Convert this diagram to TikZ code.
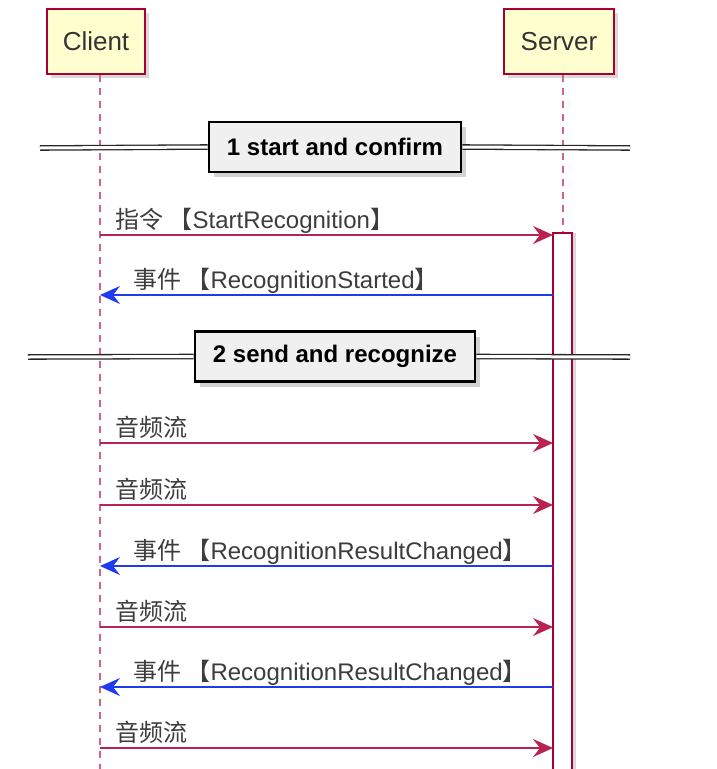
\documentclass[tikz,border=0pt]{standalone}
\usepackage{fontspec}
\setmainfont{Liberation Sans}
\newfontfamily\cjk{Noto Sans CJK SC}
\usepackage{xcolor}
\usepackage{tikz}
\usetikzlibrary{arrows.meta,positioning,shadows}

\definecolor{umlred}{HTML}{A80036}
\definecolor{umlfill}{HTML}{FEFECE}
\definecolor{msgred}{HTML}{B82350}
\definecolor{evtblue}{HTML}{1F3BF0}
\definecolor{lblgray}{HTML}{3C3C3C}

\tikzset{
  actor/.style={draw=umlred, line width=2pt, fill=umlfill, minimum width=98pt, minimum height=65pt,
    text=black!80, font=\fontsize{26}{30}\selectfont,
    drop shadow={shadow xshift=4pt, shadow yshift=-4pt, opacity=0.3}},
  life/.style={umlred!60, line width=1.3pt, dash pattern=on 7pt off 6pt},
  bar/.style={draw=umlred, line width=1.5pt, fill=white,
    drop shadow={shadow xshift=4pt, shadow yshift=0pt, opacity=0.3}},
  sep/.style={line width=1.3pt, double=white, double distance=3pt, draw=black!85},
  divbox/.style={draw=black, line width=2.5pt, fill=gray!12, minimum height=50pt, inner xsep=18pt,
    font=\bfseries\fontsize{24}{28}\selectfont,
    drop shadow={shadow xshift=5pt, shadow yshift=-5pt, opacity=0.35}},
  req/.style={msgred, line width=1.8pt, -{Stealth[length=20pt, width=18pt, inset=7pt]}},
  evt/.style={evtblue, line width=1.8pt, -{Stealth[length=20pt, width=18pt, inset=7pt]}},
  lbl/.style={text=lblgray, inner sep=0pt, anchor=base west, font=\fontsize{24}{28}\selectfont}
}

\begin{document}
\begin{tikzpicture}[x=1pt, y=-1pt]
\useasboundingbox (0,0) rectangle (716,769);
\clip (0,0) rectangle (716,769);

% participants
\node[actor] (client) at (96,41.5) {Client};
\node[actor, minimum width=110pt] (server) at (559,41.5) {Server};
\coordinate (ctop) at (100,75);
\coordinate (cbot) at (100,769);
\coordinate (stop) at (563,75);
\coordinate (sbot) at (563,233);
\draw[life] (ctop) -- (cbot);
\draw[life] (stop) -- (sbot);

% activation
\path[bar] (553,233) rectangle (572,790);

% dividers
\node[divbox] (sec1) at (335,147) {1 start and confirm};
\coordinate (d1l) at (40,148);
\coordinate (d1r) at (630,148);
\draw[sep] (d1l) -- (sec1.west);
\draw[sep] (sec1.east) -- (d1r);

\node[divbox] (sec2) at (335,356.5) {2 send and recognize};
\coordinate (d2l) at (28,357);
\coordinate (d2r) at (630,357);
\draw[sep] (d2l) -- (sec2.west);
\draw[sep] (sec2.east) -- (d2r);

% client -> server
\foreach \i/\y/\txt in {1/235/{{\cjk 指令 【}StartRecognition{\cjk 】}},
                        3/443/{\cjk 音频流}, 4/505/{\cjk 音频流},
                        6/627/{\cjk 音频流}, 8/748/{\cjk 音频流}}{
  \coordinate (c\i) at (100,\y);
  \coordinate (s\i) at (553,\y);
  \draw[req] (c\i) -- (s\i);
  \node[lbl] (lab\i) at ([xshift=15pt, yshift=7pt]c\i) {\txt};
}

% server -> client
\foreach \i/\y/\txt in {2/295/{RecognitionStarted},
                        5/566/{RecognitionResultChanged},
                        7/687/{RecognitionResultChanged}}{
  \coordinate (c\i) at (100,\y);
  \coordinate (s\i) at (553,\y);
  \draw[evt] (s\i) -- (c\i);
  \node[lbl] (lab\i) at ([xshift=33pt, yshift=7pt]c\i) {{\cjk 事件 【}\txt{\cjk 】}};
}
\end{tikzpicture}
\end{document}
